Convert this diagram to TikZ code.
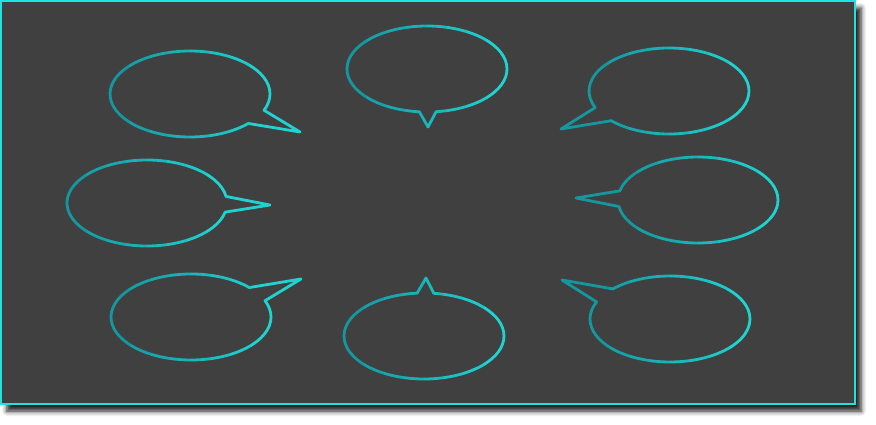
\documentclass[tikz,border=0pt]{standalone}
\usetikzlibrary{shapes.callouts, shadows.blur}
\tikzset{
    talk/.style={ellipse callout, minimum width=160pt, minimum height=86pt,
        line width=2.8pt, line join=round, callout pointer arc=21},
    talkflat/.style={talk, callout pointer arc=12}
}

\begin{document}
\begin{tikzpicture}[x=1pt, y=-1pt]
\colorlet{panel}{black!75}
\definecolor{rimcyan}{HTML}{1FE3E0}
\definecolor{talkdark}{HTML}{1597A0}
\definecolor{talklight}{HTML}{1FD3D0}
% one bubble, stroked strip by strip from dark (left) to light (right)
\def\talk#1#2#3#4#5{%
  \foreach \i in {0,...,7}{
    \pgfmathsetmacro\mix{100*\i/7}
    \begin{scope}
      \clip ({#3-80+20*\i-60*(\i==0)},0) rectangle ({#3-60+20*\i+60*(\i==7)},425);
      \node[#1, draw=talklight!\mix!talkdark, callout absolute pointer={(#5)}] (#2\i) at (#3,#4) {};
    \end{scope}
  }
}

\useasboundingbox (0,0) rectangle (876,425);
\fill[panel, draw=rimcyan, line width=1.2pt,
  blur shadow={shadow xshift=6pt, shadow yshift=-7pt, shadow blur radius=5pt, shadow opacity=90}]
  (1,1) rectangle (855,404);

\talk{talk}{talknw}{190}{94}{300,132}
\talk{talkflat}{talkn}{427}{69}{428,127}
\talk{talk}{talkne}{669}{91}{561,129}
\talk{talk}{talkw}{147}{203}{270,205}
\talk{talk}{talke}{698}{200}{576,198}
\talk{talk}{talksw}{191}{317}{301,279}
\talk{talkflat}{talks}{424}{336}{426,278}
\talk{talk}{talkse}{670}{319}{562,280}
\end{tikzpicture}
\end{document}
